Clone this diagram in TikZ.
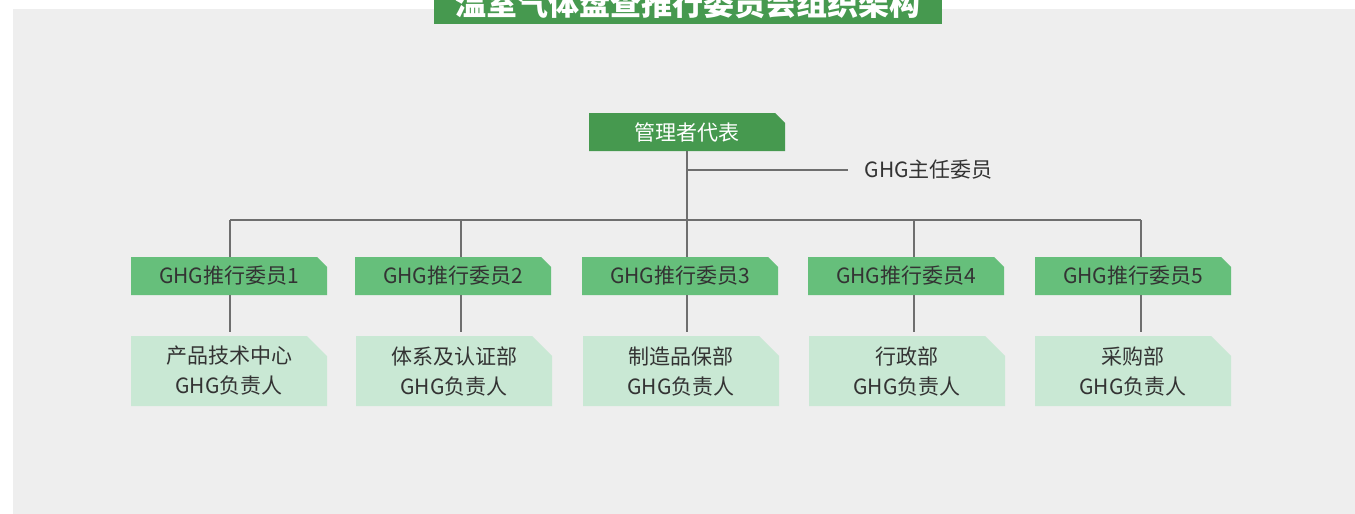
\documentclass[tikz,border=0pt]{standalone}
\usepackage{fontspec}
\setmainfont{Noto Sans CJK SC}

\definecolor{bggray}{HTML}{EEEEEE}
\definecolor{darkgrn}{HTML}{46994F}
\definecolor{midgrn}{HTML}{66BF7B}
\definecolor{lightgrn}{HTML}{C9E8D4}
\definecolor{txtgray}{HTML}{333333}
\definecolor{linegray}{HTML}{6E6E6E}

\tikzset{
    cutbox/.style 2 args={rectangle, inner sep=0pt, minimum width=196pt, draw=none,
        path picture={\fill[#1] (path picture bounding box.south west)
            -- (path picture bounding box.south east)
            -- ([yshift=-#2]path picture bounding box.north east)
            -- ([xshift=-#2]path picture bounding box.north east)
            -- (path picture bounding box.north west) -- cycle;}},
    headbox/.style={cutbox={darkgrn}{10pt}, minimum height=38pt,
        text=white, font=\fontsize{21}{25}\selectfont},
    memberbox/.style={cutbox={midgrn}{10pt}, minimum height=38pt,
        text=txtgray, font=\fontsize{21}{25}\selectfont},
    deptbox/.style={cutbox={lightgrn}{20pt}, minimum height=70pt,
        align=center, text=txtgray, font=\fontsize{21}{30}\selectfont},
    link/.style={draw=linegray, line width=1.3pt}
}

\begin{document}
\begin{tikzpicture}[x=1pt, y=-1pt]
    \useasboundingbox (0, 0) rectangle (1355, 514);
    \fill[white] (0, 0) rectangle (1355, 514);
    \fill[bggray] (13, 9) rectangle (1355, 514);

    % title bar
    \node[fill=darkgrn, minimum width=508pt, minimum height=40pt, text=white,
        font=\fontsize{31}{36}\selectfont\bfseries] (title) at (688, 4) {温室气体盘查推行委员会组织架构};

    \node[headbox] (head) at (687, 132) {管理者代表};
    \node[anchor=west, text=txtgray, font=\fontsize{21}{25}\selectfont] (chief) at (861, 170) {GHG主任委员};

    \node[memberbox] (m1) at (229, 276) {GHG推行委员1};
    \node[memberbox] (m2) at (453, 276) {GHG推行委员2};
    \node[memberbox] (m3) at (680, 276) {GHG推行委员3};
    \node[memberbox] (m4) at (906, 276) {GHG推行委员4};
    \node[memberbox] (m5) at (1133, 276) {GHG推行委员5};

    \node[deptbox] (d1) at (229, 371) {产品技术中心\\GHG负责人};
    \node[deptbox] (d2) at (454, 371) {体系及认证部\\GHG负责人};
    \node[deptbox] (d3) at (681, 371) {制造品保部\\GHG负责人};
    \node[deptbox] (d4) at (907, 371) {行政部\\GHG负责人};
    \node[deptbox] (d5) at (1133, 371) {采购部\\GHG负责人};

    % bus points
    \coordinate (j1) at (230, 220);
    \coordinate (j2) at (461, 220);
    \coordinate (j3) at (687, 220);
    \coordinate (j4) at (914, 220);
    \coordinate (j5) at (1141, 220);
    \coordinate (k) at (687, 170);

    \draw[link] (head.south) -- (j3);
    \draw[link] (k) -- ([xshift=-13pt]chief.west);
    \draw[link] (j1) -- (j5);
    \foreach \i in {1,...,5} {
        \draw[link] (j\i) -- (m\i.north -| j\i);
        \draw[link] (m\i.south -| j\i) -- ([yshift=4pt]d\i.north -| j\i);
    }
\end{tikzpicture}
\end{document}
